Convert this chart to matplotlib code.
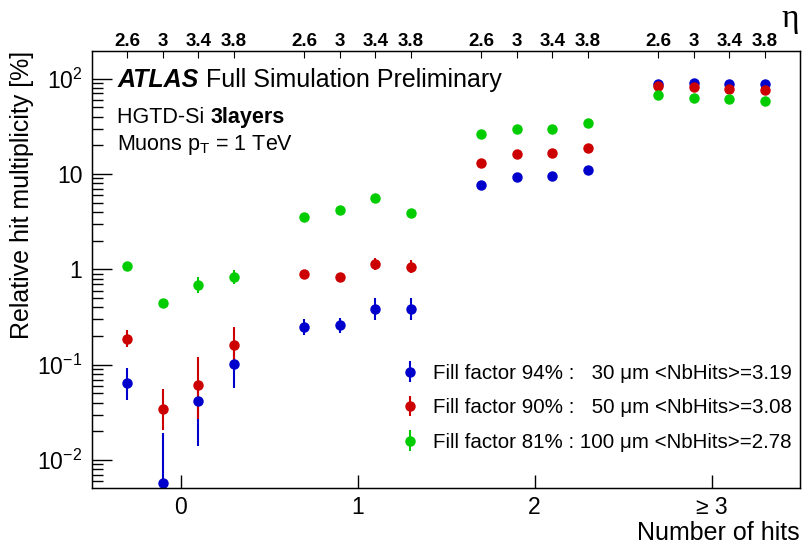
import numpy as np
import matplotlib
matplotlib.use('Agg')
import matplotlib.pyplot as plt

plt.rcParams['font.family'] = ['Liberation Sans', 'DejaVu Sans']
plt.rcParams['mathtext.fontset'] = 'custom'
plt.rcParams['mathtext.rm'] = 'Liberation Sans'
plt.rcParams['mathtext.it'] = 'Liberation Sans:italic'
plt.rcParams['mathtext.bf'] = 'Liberation Sans:bold'

# eta values inside each hit bin, and the hit bins
eta_vals = [2.6, 3.0, 3.4, 3.8]
eta_labels = ['2.6', '3', '3.4', '3.8']
hit_bins = [0, 1, 2, 3]
hit_labels = ['0', '1', '2', '\u2265 3']

# relative multiplicity [%] per (hit bin, eta), hit bin major order
blue = [0.0646, 0.0057, 0.0412, 0.103, 0.246, 0.258, 0.383, 0.383,
        7.6, 9.2, 9.5, 11.0, 88.0, 89.0, 87.5, 87.5]
blue_lo = [0.022, 0.0057, 0.027, 0.046, 0.041, 0.042, 0.09, 0.09,
           0.3, 0.35, 0.35, 0.4, 1.5, 1.5, 1.5, 1.5]
blue_hi = [0.027, 0.0136, 0.027, 0.046, 0.055, 0.052, 0.12, 0.12,
           0.3, 0.35, 0.35, 0.4, 1.5, 1.5, 1.5, 1.5]

red = [0.186, 0.034, 0.061, 0.162, 0.89, 0.84, 1.14, 1.07,
       12.9, 16.1, 16.5, 18.6, 83.8, 81.2, 78.5, 76.7]
red_lo = [0.034, 0.0135, 0.034, 0.057, 0.06, 0.06, 0.16, 0.15,
          0.6, 0.7, 0.7, 0.7, 1.5, 1.5, 1.5, 1.5]
red_hi = [0.044, 0.021, 0.06, 0.084, 0.06, 0.06, 0.18, 0.17,
          0.6, 0.7, 0.7, 0.7, 1.5, 1.5, 1.5, 1.5]

green = [1.08, 0.44, 0.69, 0.84, 3.56, 4.22, 5.6, 3.9,
         26.1, 29.7, 29.7, 34.5, 67.0, 63.2, 61.2, 57.9]
green_lo = [0.08, 0.04, 0.13, 0.13, 0.15, 0.15, 0.2, 0.15,
            1.0, 1.0, 1.0, 1.0, 1.5, 1.5, 1.5, 1.5]
green_hi = [0.08, 0.04, 0.15, 0.14, 0.15, 0.15, 0.2, 0.15,
            1.0, 1.0, 1.0, 1.0, 1.5, 1.5, 1.5, 1.5]

labels = ['Fill factor 94% :   30 \u03bcm <NbHits>=3.19',
          'Fill factor 90% :   50 \u03bcm <NbHits>=3.08',
          'Fill factor 81% : 100 \u03bcm <NbHits>=2.78']
colors = ['#0000cc', '#cc0000', '#00cc00']

# x position: hit bin + eta offset
xpos = np.array([h + (e - 3.2) / 2 for h in hit_bins for e in eta_vals])

fig = plt.figure(figsize=(8.05, 5.47), dpi=100)
ax = fig.add_axes([0.1143, 0.1079, 0.8795, 0.7989])

series = [(blue, blue_lo, blue_hi), (red, red_lo, red_hi), (green, green_lo, green_hi)]
handles = []
for (y, lo, hi), c, lab in zip(series, colors, labels):
    h = ax.errorbar(xpos, y, yerr=[lo, hi], fmt='o', color=c, ms=6.5,
                    elinewidth=1.5, capsize=0, label=lab)
    handles.append(h)

ax.set_yscale('log')
ax.set_ylim(0.0051, 195)
ax.set_xlim(-0.5, 3.5)

ax.set_xticks(hit_bins)
ax.set_xticklabels(hit_labels)
ax.set_yticks([0.01, 0.1, 1, 10, 100])
ax.set_yticklabels([r'$10^{-2}$', r'$10^{-1}$', '1', '10', r'$10^{2}$'])
ax.tick_params(axis='both', which='major', direction='in', labelsize=16.5)
ax.tick_params(axis='y', which='major', length=14.5, width=1, pad=7)
ax.tick_params(axis='y', which='minor', direction='in', length=7.7, width=1)
ax.tick_params(axis='x', which='major', length=9.5, width=1, pad=6)
ax.tick_params(axis='x', which='minor', bottom=False)
for s in ax.spines.values():
    s.set_linewidth(1.0)

ax.set_ylabel('Relative hit multiplicity [%]', fontsize=18, loc='top', labelpad=2)
ax.set_xlabel('Number of hits', fontsize=18, loc='right', labelpad=1)

# top eta axis
ax2 = ax.twiny()
ax2.set_xlim(ax.get_xlim())
ax2.set_xticks(xpos)
ax2.set_xticklabels(eta_labels * len(hit_bins), fontweight='bold')
ax2.tick_params(axis='x', direction='in', length=5, labelsize=13.5, pad=1)
fig.text(0.992, 0.965, '\u03b7', fontsize=24, family=['Liberation Serif', 'DejaVu Serif'],
         ha='right', va='center')

# ATLAS labels
t1 = ax.text(0.036, 0.918, 'ATLAS', transform=ax.transAxes, fontsize=18,
             fontweight='bold', fontstyle='italic', va='baseline')
ax.annotate(' Full Simulation Preliminary', xy=(1, 0), xycoords=t1,
            fontsize=18, va='bottom')
t2 = ax.text(0.036, 0.835, 'HGTD-Si ', transform=ax.transAxes, fontsize=15.5,
             va='baseline')
ax.annotate('3layers', xy=(1, 0), xycoords=t2, fontsize=15.5,
            fontweight='bold', va='bottom')
ax.text(0.036, 0.773, r'Muons p$_{\mathregular{T}}$ = 1 TeV', transform=ax.transAxes,
        fontsize=15.5, va='baseline')

ax.legend(handles=handles, loc='lower right', bbox_to_anchor=(1.0, 0.064),
          frameon=False, fontsize=14.8, handletextpad=0.6, handlelength=1.0,
          labelspacing=0.75, borderaxespad=0.0)

fig.savefig('out.png', dpi=100)
